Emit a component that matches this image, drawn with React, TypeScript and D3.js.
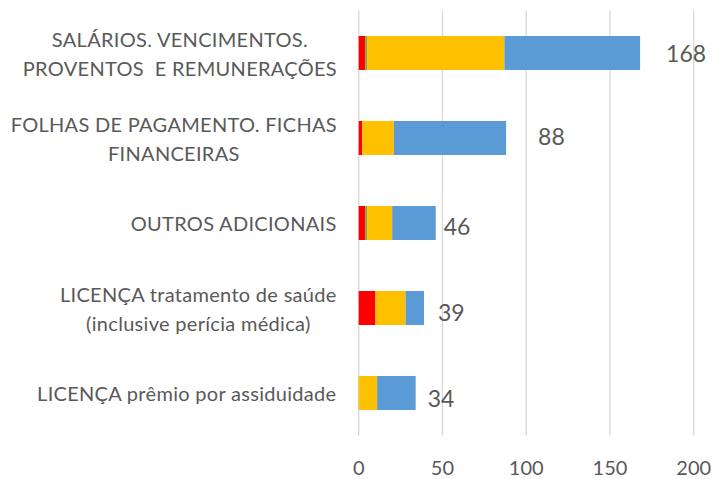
import * as d3 from 'd3';

// categories, top to bottom (each one split into the lines shown on the chart)
const categoryLines: string[][] = [
  ['SALÁRIOS. VENCIMENTOS.', 'PROVENTOS  E REMUNERAÇÕES'],
  ['FOLHAS DE PAGAMENTO. FICHAS', 'FINANCEIRAS'],
  ['OUTROS ADICIONAIS'],
  ['LICENÇA tratamento de saúde', '(inclusive perícia médica)'],
  ['LICENÇA prêmio por assiduidade'],
];

// stacked series
const redValues = [4, 2, 4, 10, 0];
const greenValues = [1, 0, 1, 0, 0];
const orangeValues = [82, 19, 15, 18, 11];
const blueValues = [81, 67, 26, 11, 23];

const xTicks = [0, 50, 100, 150, 200];

const seriesKeys = ['red', 'green', 'orange', 'blue'];
const seriesColors: Record<string, string> = {
  red: '#FF0000',
  green: '#70AD47',
  orange: '#FFC000',
  blue: '#5B9BD5',
};

// small hand nudges for the total labels (they sit a bit unevenly in the original)
const labelNudge = [
  { dx: 26, dy: 0 },
  { dx: 32, dy: -2 },
  { dx: 8, dy: 3 },
  { dx: 14, dy: 4 },
  { dx: 12, dy: 5 },
];

const width = 719;
const height = 479;
const textColor = '#595959';
const fontFamily = 'Lato, "Open Sans", sans-serif';
const catFontSize = 20;
const catSpacing = 0.3;

let measureCtx: CanvasRenderingContext2D | null = null;
function measure(text: string, size: number) {
  if (!measureCtx) measureCtx = document.createElement('canvas').getContext('2d');
  if (!measureCtx) return text.length * size * 0.5;
  measureCtx.font = `${size}px Lato`;
  return measureCtx.measureText(text).width + text.length * catSpacing;
}

export default function App() {
  const rows = categoryLines.map((_, i) => ({
    index: String(i),
    red: redValues[i],
    green: greenValues[i],
    orange: orangeValues[i],
    blue: blueValues[i],
  }));
  const totals = rows.map((r) => r.red + r.green + r.orange + r.blue);

  const stacked = d3.stack<any>().keys(seriesKeys)(rows);

  const xScale = d3.scaleLinear().domain([0, 200]).range([358.7, 693.7]);
  const yScale = d3
    .scaleBand()
    .domain(rows.map((r) => r.index))
    .range([10.5, 435.5])
    .paddingInner(0.6)
    .paddingOuter(0.3);

  const labelRight = 337;
  const lineGap = 29;

  return (
    <svg
      width={width}
      height={height}
      style={{ position: 'absolute', left: 0, top: 0, background: '#fff' }}
      fontFamily={fontFamily}
    >
      {/* vertical gridlines */}
      {xTicks.map((t) => (
        <line
          key={`grid-${t}`}
          x1={xScale(t)}
          x2={xScale(t)}
          y1={yScale.range()[0]}
          y2={yScale.range()[1]}
          stroke="#D9D9D9"
          strokeWidth={1.4}
        />
      ))}

      {/* x tick labels */}
      {xTicks.map((t) => (
        <text
          key={`tick-${t}`}
          x={xScale(t)}
          y={475}
          textAnchor="middle"
          fontSize={20}
          fill={textColor}
        >
          {t}
        </text>
      ))}

      {/* stacked bars */}
      {stacked.map((layer) => (
        <g key={layer.key} fill={seriesColors[layer.key]}>
          {layer.map((d, i) => (
            <rect
              key={i}
              x={xScale(d[0])}
              y={yScale(rows[i].index)}
              width={Math.max(0, xScale(d[1]) - xScale(d[0]))}
              height={yScale.bandwidth()}
            />
          ))}
        </g>
      ))}

      {/* category labels: block right aligned, lines centered in it */}
      {categoryLines.map((lines, i) => {
        const blockWidth = d3.max(lines, (l) => measure(l, catFontSize)) || 0;
        const cx = labelRight - blockWidth / 2;
        const cy = (yScale(rows[i].index) || 0) + yScale.bandwidth() / 2;
        const first = cy - ((lines.length - 1) * lineGap) / 2;
        return (
          <text
            key={`cat-${i}`}
            textAnchor="middle"
            fontSize={catFontSize}
            letterSpacing={catSpacing}
            fill={textColor}
            style={{ whiteSpace: 'pre' }}
          >
            {lines.map((l, j) => (
              <tspan key={j} x={cx} y={first + j * lineGap} dominantBaseline="central">
                {l}
              </tspan>
            ))}
          </text>
        );
      })}

      {/* total labels */}
      {totals.map((t, i) => (
        <text
          key={`total-${i}`}
          x={xScale(t) + labelNudge[i].dx}
          y={(yScale(rows[i].index) || 0) + yScale.bandwidth() / 2 + labelNudge[i].dy}
          dominantBaseline="central"
          fontSize={23}
          fill={textColor}
        >
          {t}
        </text>
      ))}
    </svg>
  );
}
